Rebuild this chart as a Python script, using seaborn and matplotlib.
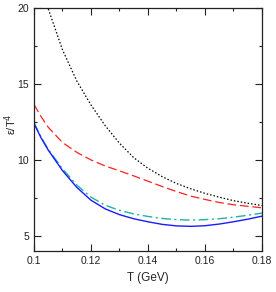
import numpy as np
import pandas as pd
import matplotlib
matplotlib.use("Agg")
import matplotlib.pyplot as plt
import seaborn as sns
from matplotlib.ticker import MultipleLocator

sns.set_style("ticks")
plt.rcParams['font.family'] = ['Liberation Sans', 'DejaVu Sans']

T_dot = [0.100, 0.105, 0.110, 0.115, 0.120, 0.125, 0.130, 0.135, 0.140, 0.145,
         0.150, 0.155, 0.160, 0.165, 0.170, 0.175, 0.180]
e_dot = [22.8, 19.95, 17.25, 15.2, 13.62, 12.25, 11.1, 10.15, 9.45, 8.9,
         8.45, 8.1, 7.8, 7.55, 7.32, 7.15, 7.0]

T_red = [0.100, 0.1025, 0.105, 0.110, 0.115, 0.120, 0.125, 0.130, 0.135, 0.140,
         0.145, 0.150, 0.155, 0.160, 0.165, 0.170, 0.175, 0.180]
e_red = [13.65, 12.85, 12.15, 11.15, 10.5, 10.0, 9.6, 9.28, 8.95, 8.6,
         8.25, 7.92, 7.62, 7.4, 7.2, 7.05, 6.95, 6.85]

T_blue = [0.100, 0.1025, 0.105, 0.110, 0.115, 0.120, 0.125, 0.130, 0.135, 0.140,
          0.145, 0.150, 0.155, 0.160, 0.165, 0.170, 0.175, 0.180]
e_blue = [12.4, 11.45, 10.65, 9.3, 8.2, 7.35, 6.78, 6.4, 6.13, 5.93,
          5.76, 5.66, 5.63, 5.67, 5.78, 5.93, 6.1, 6.3]

T_cyan = [0.100, 0.1025, 0.105, 0.110, 0.115, 0.120, 0.125, 0.130, 0.135, 0.140,
          0.145, 0.150, 0.155, 0.160, 0.165, 0.170, 0.175, 0.180]
e_cyan = [12.45, 11.5, 10.7, 9.42, 8.35, 7.55, 7.02, 6.68, 6.45, 6.28,
          6.15, 6.07, 6.04, 6.07, 6.13, 6.23, 6.36, 6.5]

x_ticks = [0.10, 0.12, 0.14, 0.16, 0.18]
x_labels = ["0.1", "0.12", "0.14", "0.16", "0.18"]
y_ticks = [5, 10, 15, 20]

fig = plt.figure(figsize=(2.76, 2.92), dpi=100)
ax = fig.add_axes([0.123, 0.140, 0.826, 0.833])

sns.lineplot(x=T_dot, y=e_dot, ax=ax, color="black", linestyle=(0, (1.2, 1.6)), linewidth=0.9)
sns.lineplot(x=T_red, y=e_red, ax=ax, color="#ff2020", linestyle=(0, (7, 3)), linewidth=0.9)
sns.lineplot(x=T_cyan, y=e_cyan, ax=ax, color="#20b2aa", linestyle=(0, (7, 2.5, 1.5, 2.5)), linewidth=1.0)
sns.lineplot(x=T_blue, y=e_blue, ax=ax, color="#1a1aff", linestyle="-", linewidth=1.0)

ax.set_xlim(0.1, 0.18)
ax.set_ylim(4, 20)
ax.set_xticks(x_ticks)
ax.set_xticklabels(x_labels)
ax.set_yticks(y_ticks)
ax.xaxis.set_minor_locator(MultipleLocator(0.01))
ax.yaxis.set_minor_locator(MultipleLocator(2.5))
ax.tick_params(which="both", direction="in", top=True, right=True, labelsize=7.5, colors="#222222")
ax.tick_params(which="major", length=5, width=0.8)
ax.tick_params(which="minor", length=2.5, width=0.8)
for s in ax.spines.values():
    s.set_linewidth(0.9)
    s.set_color("#222222")
ax.set_xlabel("T (GeV)", fontsize=8.5, labelpad=4)
ax.set_ylabel("ε/T$^4$", fontsize=8, va="center")
ax.yaxis.set_label_coords(-0.1, 0.52)

fig.savefig("out.png", dpi=100)
